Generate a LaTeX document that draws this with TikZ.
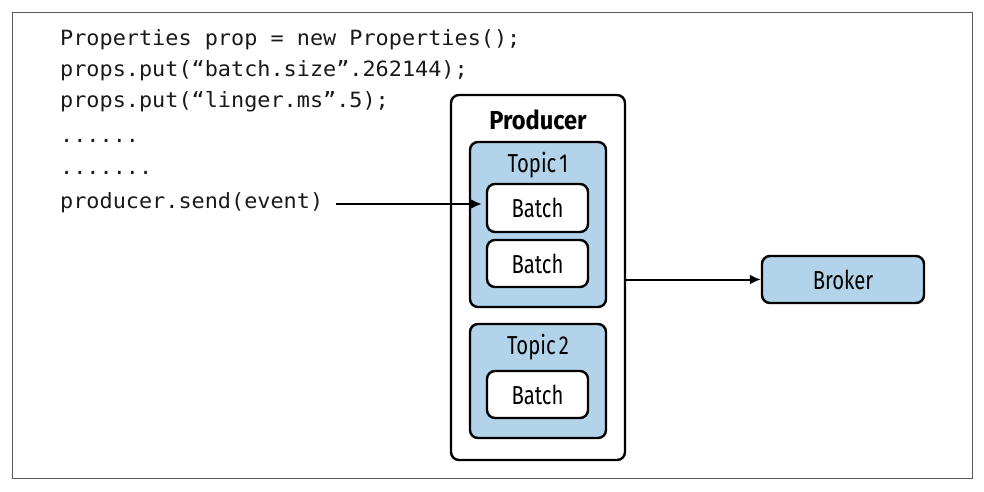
\documentclass[tikz,border=0pt]{standalone}
\usepackage{fontspec}
\setmainfont{Fira Sans}
\setmonofont[FakeStretch=1.04]{DejaVu Sans Mono}
\newfontfamily\labelfont[FakeStretch=0.78]{Fira Sans}
\newfontfamily\prodfont[FakeStretch=0.91]{Fira Sans}
\usetikzlibrary{arrows.meta}
\definecolor{boxblue}{RGB}{179,211,234}
\definecolor{framegray}{RGB}{90,90,90}
\definecolor{codegray}{RGB}{25,25,25}
\tikzset{
  rbox/.style={draw=black, line width=2.4pt, rounded corners=8pt, inner sep=0pt, font=\labelfont\fontsize{26}{30}\selectfont},
  bluebox/.style={rbox, fill=boxblue},
  whitebox/.style={rbox, fill=white},
  codeline/.style={anchor=west, inner xsep=0pt, inner ysep=0pt, text=codegray, font=\ttfamily\fontsize{21}{24}\selectfont, text height=15pt, text depth=4pt},
  conn/.style={line width=2pt, -{Latex[length=11pt,width=10pt]}},
  lbl/.style={inner sep=0pt, font=\labelfont\fontsize{26}{30}\selectfont}
}
\begin{document}
\begin{tikzpicture}[x=1pt,y=-1pt]
\useasboundingbox (0,0) rectangle (984,491);
\draw[framegray, line width=1pt] (12,12) rectangle (972,478);
% code
\node[codeline] (c1) at (60,40) {Properties prop = new Properties();};
\node[codeline] (c2) at (60,71) {props.put(“batch.size”.262144);};
\node[codeline] (c3) at (60,102) {props.put(“linger.ms”.5);};
\node[codeline] (c4) at (60,137) {......};
\node[codeline] (c5) at (60,169) {.......};
\node[codeline] (c6) at (60,203) {producer.send(event)};
% producer
\node[whitebox, minimum width=174pt, minimum height=365pt] (producer) at (538,277.5) {};
\node[lbl, font=\prodfont\bfseries\fontsize{26}{30}\selectfont] (plabel) at (538,120) {Producer};
\node[bluebox, minimum width=136pt, minimum height=165pt] (topic1) at (538,224.5) {};
\node[lbl] (t1label) at (538,165) {Topic\hspace{0.12em}1};
\node[whitebox, minimum width=101pt, minimum height=48pt] (b1) at (537.5,208) {Batch};
\node[whitebox, minimum width=101pt, minimum height=47pt] (b2) at (537.5,263.5) {Batch};
\node[bluebox, minimum width=136pt, minimum height=114pt] (topic2) at (538,381) {};
\node[lbl] (t2label) at (538,347) {Topic\hspace{0.12em}2};
\node[whitebox, minimum width=101pt, minimum height=47pt] (b3) at (537.5,394.5) {Batch};
% broker
\node[bluebox, minimum width=162pt, minimum height=47pt] (broker) at (843,279.5) {Broker};
% connectors
\draw[conn] ([xshift=13pt,yshift=-1pt]c6.east) -- ([xshift=13pt,yshift=-1pt]c6.east -| topic1.west);
\draw[conn] (producer.east |- broker.west) -- (broker.west);
\end{tikzpicture}
\end{document}
